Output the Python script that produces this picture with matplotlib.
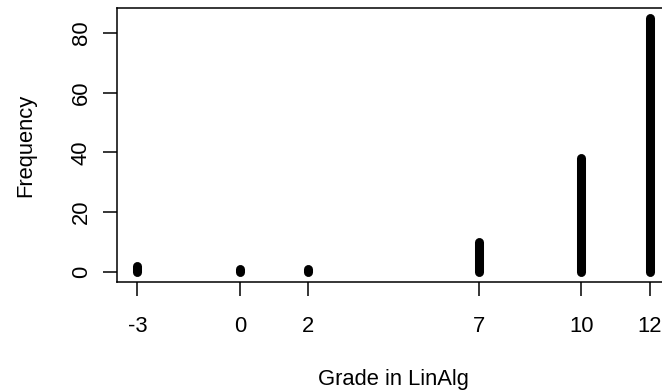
import matplotlib
matplotlib.use("Agg")
import matplotlib.pyplot as plt

plt.rcParams['font.family'] = ['Liberation Sans', 'DejaVu Sans']

# grades and how many students got each one
grades = [-3, 0, 2, 7, 10, 12]
freq = [2, 1, 1, 10, 38, 85]

fig = plt.figure(figsize=(6.62, 3.91), dpi=100)
# R-style plot region, right edge runs off the picture
ax = fig.add_axes([117/662, (391-282)/391, (670-117)/662, (282-8)/391])

vl = ax.vlines(grades, 0, freq, colors='black', linewidth=6.5)
vl.set_capstyle('round')

ax.set_xlim(-3 - 0.6, 12 + 0.6)
ax.set_ylim(-3.4, 88.4)
ax.set_xticks(grades)
ax.set_xticklabels([str(g) for g in grades])
ax.set_yticks([0, 20, 40, 60, 80])
ax.set_yticklabels(['0', '20', '40', '60', '80'], rotation=90, va='center')
ax.tick_params(direction='out', length=10, width=1.1, labelsize=15.8)
ax.tick_params(axis='x', pad=14.4)
ax.tick_params(axis='y', pad=8.2)
for s in ax.spines.values():
    s.set_linewidth(1.1)
ax.spines['right'].set_visible(False)

ax.set_xlabel('Grade in LinAlg', fontsize=15.8, labelpad=23)
ax.set_ylabel('Frequency', fontsize=15.8, labelpad=24.7)

fig.savefig('out.png', dpi=100)
